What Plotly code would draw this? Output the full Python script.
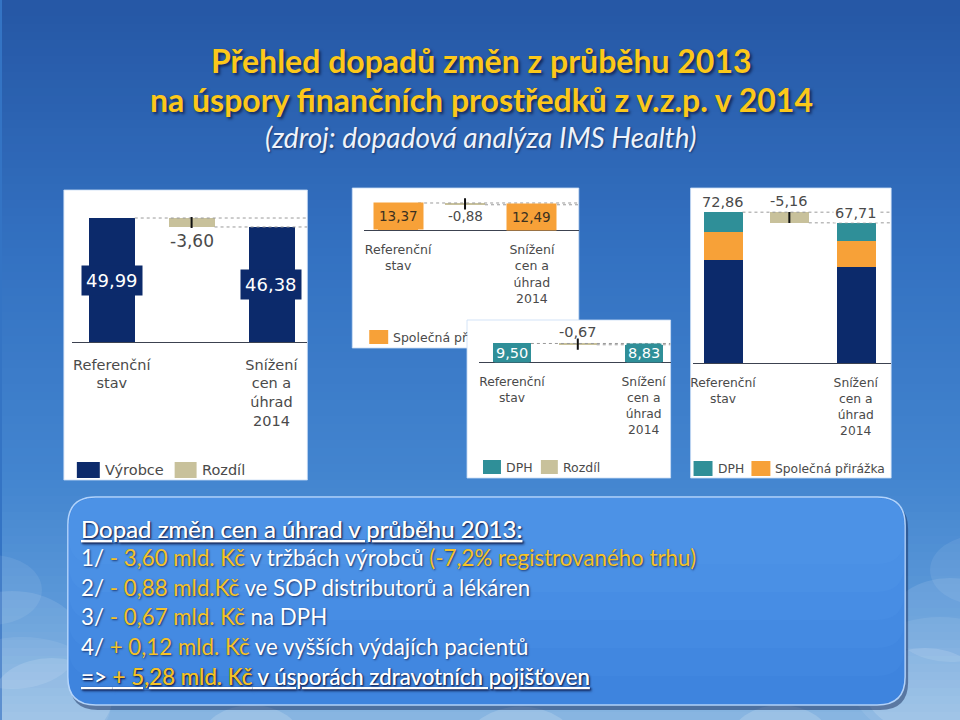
import plotly.graph_objects as go

W, H = 960, 720

# data (mld. Kč)
categories = ["Referenční<br>stav", "Snížení<br>cen a<br>úhrad<br>2014"]
vyrobce = [49.99, 46.38]
prirazka = [13.37, 12.49]
dph = [9.50, 8.83]
totals = [72.86, 67.71]
diff_vyrobce = -3.60
diff_prirazka = -0.88
diff_dph = -0.67
diff_total = -5.16

NAVY = "#0c2a6b"
TAN = "#c8c19b"
ORANGE = "#f7a138"
TEAL = "#2f8f98"
GREY_TXT = "#4a4a4a"
YELLOW = "#fcc81a"
VAL = "#f5c227"


def px(x):
    return x / W


def py(y):
    return 1 - y / H


def fmt(v):
    return f"{v:.2f}".replace(".", ",")


fig = go.Figure()
shapes = []
annotations = []

# --- sky background (vertical gradient bands) ---
stops = [(0, (38, 88, 166)), (250, (52, 114, 194)), (480, (68, 134, 208)),
         (620, (96, 156, 218)), (720, (140, 184, 226))]
for y0 in range(0, H, 8):
    for (a, ca), (b, cb) in zip(stops[:-1], stops[1:]):
        if a <= y0 < b:
            t = (y0 - a) / (b - a)
            c = tuple(int(ca[i] + (cb[i] - ca[i]) * t) for i in range(3))
            break
    shapes.append(dict(type="rect", xref="paper", yref="paper", layer="below",
                       x0=0, x1=1, y0=py(y0 + 8), y1=py(y0),
                       fillcolor=f"rgb{c}", line=dict(width=0)))

# soft clouds near the bottom
for cx, cy, r, a in [(10, 640, 70, 0.10), (50, 700, 60, 0.14), (-10, 590, 50, 0.08), (20, 700, 90, 0.08),
                     (950, 620, 60, 0.10), (925, 690, 60, 0.14), (980, 570, 50, 0.08), (940, 680, 90, 0.08),
                     (250, 740, 50, 0.16), (520, 745, 55, 0.16), (780, 740, 50, 0.16)]:
    shapes.append(dict(type="circle", xref="paper", yref="paper", layer="below",
                       x0=px(cx - r), x1=px(cx + r), y0=py(cy + r * 0.7), y1=py(cy - r * 0.7),
                       fillcolor=f"rgba(255,255,255,{a})", line=dict(width=0)))

# --- white chart panels ---
for x0, y0, x1, y1 in [(62, 190, 306, 480), (351, 188, 578, 348),
                       (466, 320, 670, 478), (690, 188, 891, 478)]:
    shapes.append(dict(type="rect", xref="paper", yref="paper", layer="below",
                       x0=px(x0), x1=px(x1), y0=py(y1), y1=py(y0),
                       fillcolor="white", line=dict(color="rgba(200,220,245,0.8)", width=1)))


# panel geometry: axis line x0/x1, baseline, first bar centre, bar spacing, px per unit, top
panels = [
    dict(x0=70, x1=306, base=342, c0=110, sp=80, ppu=2.48, top=195, bw=46),
    dict(x0=363, x1=578, base=230, c0=397, sp=67, ppu=2.02, top=192, bw=40),
    dict(x0=478, x1=670, base=362, c0=511, sp=66, ppu=1.95, top=322, bw=38),
    dict(x0=692, x1=891, base=363, c0=722.5, sp=66.5, ppu=2.07, top=192, bw=39),
]
tick_sizes = [14.5, 12.5, 12.3, 12.3]
standoffs = [9, 8, 8, 8]

layout_axes = {}
for i, p in enumerate(panels):
    n = "" if i == 0 else str(i + 1)
    xr = [-(p["c0"] - p["x0"]) / p["sp"], (p["x1"] - p["c0"]) / p["sp"]]
    yr = [0, (p["base"] - p["top"]) / p["ppu"]]
    p["xr"], p["xa"], p["ya"] = xr, "x" + n, "y" + n
    p["w"] = p["bw"] / p["sp"]
    layout_axes["xaxis" + n] = dict(
        domain=[px(p["x0"]), px(p["x1"])], range=xr, anchor="y" + n,
        showgrid=False, zeroline=False, showline=True, linecolor="#3c4250", linewidth=1.3,
        tickvals=[0, 2], ticktext=categories, ticks="", ticklabelstandoff=standoffs[i],
        tickfont=dict(family="DejaVu Sans", size=tick_sizes[i], color=GREY_TXT),
        fixedrange=True,
    )
    layout_axes["yaxis" + n] = dict(
        domain=[py(p["base"]), py(p["top"])], range=yr, anchor="x" + n,
        visible=False, fixedrange=True,
    )


def connectors(p, ref, new):
    for yv, xs in [(ref, p["w"] / 2), (new, 1 + p["w"] / 2)]:
        fig.add_trace(go.Scatter(x=[xs, p["xr"][1]], y=[yv, yv], mode="lines",
                                 line=dict(color="#9a9a9a", width=1, dash="dot"),
                                 xaxis=p["xa"], yaxis=p["ya"], hoverinfo="skip", showlegend=False))


def diff_bar(p, ref, new):
    fig.add_trace(go.Bar(x=[1], y=[ref - new], base=[new], width=p["w"], marker=dict(color=TAN, line=dict(width=0)),
                         xaxis=p["xa"], yaxis=p["ya"], showlegend=False, hoverinfo="skip"))
    fig.add_trace(go.Scatter(x=[1], y=[(ref + new) / 2], mode="markers",
                             marker=dict(symbol="line-ns", size=8, line=dict(color="#111", width=2)),
                             xaxis=p["xa"], yaxis=p["ya"], showlegend=False, hoverinfo="skip"))


def simple_panel(p, vals, color):
    connectors(p, vals[0], vals[1])
    fig.add_trace(go.Bar(x=[0, 2], y=vals, width=p["w"], marker=dict(color=color, line=dict(width=0)),
                         xaxis=p["xa"], yaxis=p["ya"], showlegend=False, hoverinfo="skip"))
    diff_bar(p, vals[0], vals[1])


# panel 1: výrobce
p1, p2, p3, p4 = panels
simple_panel(p1, vyrobce, NAVY)
for xi, v in zip([0, 2], vyrobce):
    annotations.append(dict(x=xi, y=v / 2, xref=p1["xa"], yref=p1["ya"], text=fmt(v), showarrow=False,
                            bgcolor=NAVY, borderpad=4, font=dict(family="DejaVu Sans", size=18, color="white")))
annotations.append(dict(x=1, y=vyrobce[1], xref=p1["xa"], yref=p1["ya"], text=fmt(diff_vyrobce), showarrow=False,
                        yanchor="top", yshift=-2, font=dict(family="DejaVu Sans", size=17, color=GREY_TXT)))

# panel 2: společná přirážka
simple_panel(p2, prirazka, ORANGE)
for xi, v in zip([0, 2], prirazka):
    annotations.append(dict(x=xi, y=v / 2, xref=p2["xa"], yref=p2["ya"], text=fmt(v), showarrow=False,
                            bgcolor=ORANGE, borderpad=5, font=dict(family="DejaVu Sans", size=13.5, color="#3a3020")))
annotations.append(dict(x=1, y=prirazka[1], xref=p2["xa"], yref=p2["ya"], text=fmt(diff_prirazka), showarrow=False,
                        yanchor="top", yshift=-1, font=dict(family="DejaVu Sans", size=13.5, color=GREY_TXT)))

# panel 3: DPH
simple_panel(p3, dph, TEAL)
for xi, v in zip([0, 2], dph):
    annotations.append(dict(x=xi, y=v / 2, xref=p3["xa"], yref=p3["ya"], text=fmt(v), showarrow=False,
                            bgcolor=TEAL, borderpad=1, font=dict(family="DejaVu Sans", size=14.5, color="white")))
annotations.append(dict(x=1, y=dph[0], xref=p3["xa"], yref=p3["ya"], text=fmt(diff_dph), showarrow=False,
                        yanchor="bottom", yshift=1, font=dict(family="DejaVu Sans", size=14.5, color=GREY_TXT)))

# panel 4: stacked total
connectors(p4, totals[0], totals[1])
for vals, color in [(vyrobce, NAVY), (prirazka, ORANGE), (dph, TEAL)]:
    fig.add_trace(go.Bar(x=[0, 2], y=vals, width=p4["w"], marker=dict(color=color, line=dict(width=0)),
                         xaxis=p4["xa"], yaxis=p4["ya"], showlegend=False, hoverinfo="skip"))
diff_bar(p4, totals[0], totals[1])
for xi, v, bg in [(0, totals[0], "rgba(0,0,0,0)"), (2, totals[1], "white")]:
    annotations.append(dict(x=xi, y=v, xref=p4["xa"], yref=p4["ya"], text=fmt(v), showarrow=False,
                            yanchor="bottom", yshift=0, bgcolor=bg, borderpad=1,
                            font=dict(family="DejaVu Sans", size=14.5, color=GREY_TXT)))
annotations.append(dict(x=1, y=totals[0], xref=p4["xa"], yref=p4["ya"], text=fmt(diff_total), showarrow=False,
                        yanchor="bottom", yshift=1, font=dict(family="DejaVu Sans", size=14.5, color=GREY_TXT)))

fig.update_layout(barmode="stack", **layout_axes)

# --- panel legends ---
legend_items = [
    (75, 98, 462, 478, NAVY, "Výrobce", 14.5), (173, 195, 462, 478, TAN, "Rozdíl", 14.5),
    (368, 387, 330, 344, ORANGE, "Společná př", 12.5),
    (482, 500, 460, 474, TEAL, "DPH", 12.5), (540, 557, 460, 474, TAN, "Rozdíl", 12.5),
    (693, 712, 461, 476, TEAL, "DPH", 12.3), (751, 770, 461, 476, ORANGE, "Společná přirážka", 12.3),
]
for x0, x1, y0, y1, c, label, fs in legend_items:
    shapes.append(dict(type="rect", xref="paper", yref="paper", x0=px(x0), x1=px(x1), y0=py(y1), y1=py(y0),
                       fillcolor=c, line=dict(width=0)))
    annotations.append(dict(x=px(x1 + 3), y=py((y0 + y1) / 2), xref="paper", yref="paper", text=label,
                            showarrow=False, xanchor="left", yanchor="middle",
                            font=dict(family="DejaVu Sans", size=fs, color=GREY_TXT)))

# --- summary text box ---
bx0, by0, bx1, by1, r = 66, 497, 905, 705, 28


def rounded(x0, y0, x1, y1, r):
    rx, ry = r / W, r / H
    X0, X1, Y0, Y1 = px(x0), px(x1), py(y1), py(y0)
    return (f"M {X0 + rx} {Y1} L {X1 - rx} {Y1} Q {X1} {Y1} {X1} {Y1 - ry} "
            f"L {X1} {Y0 + ry} Q {X1} {Y0} {X1 - rx} {Y0} L {X0 + rx} {Y0} "
            f"Q {X0} {Y0} {X0} {Y0 + ry} L {X0} {Y1 - ry} Q {X0} {Y1} {X0 + rx} {Y1} Z")


shapes.append(dict(type="path", xref="paper", yref="paper", path=rounded(bx0 + 2, by0 + 4, bx1 + 3, by1 + 5, r),
                   fillcolor="rgba(10,30,80,0.45)", line=dict(width=0)))
shapes.append(dict(type="path", xref="paper", yref="paper", path=rounded(bx0, by0, bx1, by1, r),
                   fillcolor="#3b80dc", line=dict(color="rgba(190,220,255,0.9)", width=1.5)))
# soft top-to-bottom lightening inside the box
for k in range(6):
    shapes.append(dict(type="path", xref="paper", yref="paper",
                       path=rounded(bx0 + 1, by0 + 1, bx1 - 1, by1 - 1 - k * 28, r - 1),
                       fillcolor="rgba(110,180,255,0.07)", line=dict(width=0)))


def y(s):
    return f"<span style='color:{VAL}'>{s}</span>"


box_lines = [
    "Dopad změn cen a úhrad v průběhu 2013:",
    f"1/ {y('- 3,60 mld. Kč')} v tržbách výrobců {y('(-7,2% registrovaného trhu)')}",
    f"2/ {y('- 0,88 mld.Kč')} ve SOP distributorů a lékáren",
    f"3/ {y('- 0,67 mld. Kč')} na DPH",
    f"4/ {y('+ 0,12 mld. Kč')} ve vyšších výdajích pacientů",
    f"=> {y('+ 5,28 mld. Kč')} v úsporách zdravotních pojišťoven",
]
for i, line in enumerate(box_lines):
    under = i in (0, len(box_lines) - 1)
    annotations.append(dict(x=px(77), y=py(528 + i * 29.6), xref="paper", yref="paper", text=line,
                            showarrow=False, xanchor="left", yanchor="middle",
                            font=dict(family="Lato", size=24 if i == 0 else 22.3, color="white",
                                      shadow="1px 1px 2px rgba(0,0,40,0.6)",
                                      lineposition="under" if under else "none")))

# --- titles ---
for text, yy in [("Přehled dopadů změn z průběhu 2013", 60),
                 ("na úspory finančních prostředků z v.z.p. v 2014", 100)]:
    annotations.append(dict(x=0.5, y=py(yy), xref="paper", yref="paper", text=text, showarrow=False,
                            yanchor="middle",
                            font=dict(family="Lato", size=32, weight="bold", color=YELLOW,
                                      shadow="2px 2px 3px rgba(0,0,30,0.6)")))
annotations.append(dict(x=0.5, y=py(137), xref="paper", yref="paper",
                        text="(zdroj: dopadová analýza IMS Health)", showarrow=False, yanchor="middle",
                        font=dict(family="Lato", size=28, style="italic", color="#eef3fb",
                                  shadow="1px 1px 2px rgba(0,0,30,0.5)")))

fig.update_layout(
    width=W, height=H, margin=dict(l=0, r=0, t=0, b=0),
    paper_bgcolor="#3474c4", plot_bgcolor="rgba(0,0,0,0)",
    shapes=shapes, annotations=annotations, showlegend=False, bargap=0,
)
fig.write_html("out.html", config={"displayModeBar": False},
               post_script="document.body.style.margin='0';")
